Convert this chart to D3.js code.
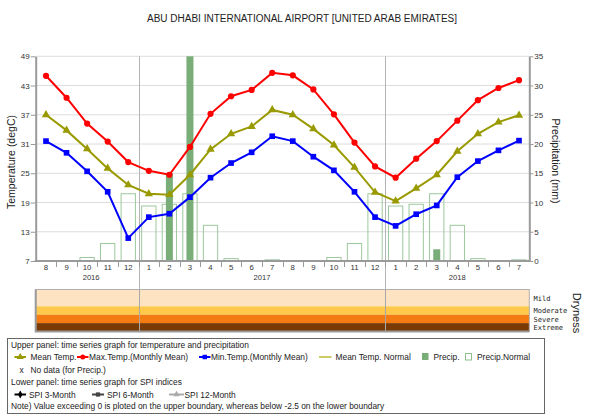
<!DOCTYPE html>
<html>
<head>
<meta charset="utf-8">
<script src="https://cdn.jsdelivr.net/npm/d3@7"></script>
<style>
body { margin: 0; background: #fff; }
svg { font-family: "Liberation Sans", Arial, sans-serif; }
</style>
</head>
<body>
<div id="chart"></div>
<script>
// --> DATA

var months = ["8","9","10","11","12","1","2","3","4","5","6","7","8","9","10","11","12","1","2","3","4","5","6","7"];
var years  = [2016,2016,2016,2016,2016,2017,2017,2017,2017,2017,2017,2017,2017,2017,2017,2017,2017,2018,2018,2018,2018,2018,2018,2018];

var maxTemp  = [45.0,40.5,35.2,31.5,27.3,25.5,24.7,30.4,37.2,40.8,42.1,45.6,45.1,42.2,37.1,31.3,26.4,24.1,28.0,31.6,35.8,40.0,42.5,44.1];
var meanTemp = [37.0,33.8,30.0,26.0,22.6,20.8,20.6,24.7,29.9,33.1,34.6,38.0,37.0,34.1,30.8,26.2,21.1,19.3,21.9,24.7,29.5,33.1,35.5,36.9];
var minTemp  = [31.6,29.2,25.4,21.2,11.7,16.0,16.7,20.1,24.1,27.1,29.3,32.6,31.6,28.4,25.6,21.2,16.0,14.2,16.6,18.4,24.2,27.5,29.7,31.7];
var precip   = [0,0,0,0,0,0,15.0,40.0,0,0,0,0,0,0,0,0,0,0,0,2.0,0,0,0,0];
// precipitation normal by calendar month, Jan..Dec
var precipNormal = [9.4,9.7,11.5,6.1,0.4,0,0.2,0,0,0.6,3.0,11.5];

var tempTicks = [7,13,19,25,31,37,43,49];
var precipTicks = [0,5,10,15,20,25,30,35];
var dryClasses = ["Mild","Moderate","Severe","Extreme"];
var dryBounds = [0,-1,-1.5,-2,-2.5];
var dryColors = ["#fde3c1","#fec84a","#f47b12","#7a3a05"];

var title = "ABU DHABI INTERNATIONAL AIRPORT [UNITED ARAB EMIRATES]";

// --> SET UP

var width = 600, height = 416;
var plot = {left: 35.7, right: 529.3, top: 56.3, bottom: 261};
var spiPanel = {top: 289.5, bottom: 331.5};

var svg = d3.select("#chart").append("svg")
    .attr("width", width)
    .attr("height", height);

var keys = months.map(function(m, i) { return years[i] + "-" + m; });

var x = d3.scaleBand()
    .domain(keys)
    .range([plot.left, plot.right]);

var yT = d3.scaleLinear().domain([7, 49]).range([plot.bottom, plot.top]);
var yP = d3.scaleLinear().domain([0, 35]).range([plot.bottom, plot.top]).clamp(true);
var ySpi = d3.scaleLinear().domain([0, -2.5]).range([spiPanel.top, spiPanel.bottom]);

function cx(i) { return x(keys[i]) + x.bandwidth() / 2; }

// title
svg.append("text")
    .attr("x", 302).attr("y", 21.5)
    .attr("text-anchor", "middle")
    .style("font-size", "10px")
    .style("fill", "#222")
    .text(title);

// horizontal grid
svg.append("g").selectAll("line")
    .data(tempTicks.slice(1))
    .enter().append("line")
    .attr("x1", plot.left).attr("x2", plot.right)
    .attr("y1", function(d) { return yT(d); })
    .attr("y2", function(d) { return yT(d); })
    .attr("stroke", "#dcdcdc").attr("stroke-width", 1);

// precip normal (hollow bars)
var normalW = 14.3;
svg.append("g").selectAll("rect")
    .data(keys.map(function(k, i) { return {k: k, v: precipNormal[+months[i] - 1]}; }).filter(function(d) { return d.v > 0; }))
    .enter().append("rect")
    .attr("x", function(d) { return x(d.k) + (x.bandwidth() - normalW) / 2; })
    .attr("width", normalW)
    .attr("y", function(d) { return yP(d.v); })
    .attr("height", function(d) { return yP(0) - yP(d.v); })
    .attr("fill", "none")
    .attr("stroke", "#9cc89c").attr("stroke-width", 1);

// precip (filled bars)
var precipW = 7;
svg.append("g").selectAll("rect")
    .data(keys.map(function(k, i) { return {k: k, v: precip[i]}; }).filter(function(d) { return d.v > 0; }))
    .enter().append("rect")
    .attr("x", function(d) { return x(d.k) + (x.bandwidth() - precipW) / 2; })
    .attr("width", precipW)
    .attr("y", function(d) { return yP(d.v); })
    .attr("height", function(d) { return yP(0) - yP(d.v); })
    .attr("fill", "#79ae79");

// year separators (run through both panels)
var yearStarts = keys.filter(function(k, i) { return i > 0 && years[i] !== years[i - 1]; });
svg.append("g").selectAll("line")
    .data(yearStarts)
    .enter().append("line")
    .attr("x1", function(d) { return Math.round(x(d)) + 0.5; })
    .attr("x2", function(d) { return Math.round(x(d)) + 0.5; })
    .attr("y1", plot.top).attr("y2", spiPanel.bottom)
    .attr("stroke", "#b4b4b4").attr("stroke-width", 1);

// left axis
var axL = svg.append("g")
    .attr("transform", "translate(" + plot.left + ",0)")
    .call(d3.axisLeft(yT).tickValues(tempTicks).tickSize(5).tickSizeOuter(0));
axL.select(".domain").attr("stroke", "#9a9a9a").attr("stroke-width", 2);
axL.selectAll(".tick line").attr("stroke", "#9a9a9a");
axL.selectAll(".tick text").style("font-size", "8px").style("fill", "#333").attr("x", -6);

// right axis
var axR = svg.append("g")
    .attr("transform", "translate(" + plot.right + ",0)")
    .call(d3.axisRight(yP).tickValues(precipTicks).tickSize(4).tickSizeOuter(0));
axR.select(".domain").attr("stroke", "#9a9a9a").attr("stroke-width", 2);
axR.selectAll(".tick line").attr("stroke", "#9a9a9a");
axR.selectAll(".tick text").style("font-size", "8px").style("fill", "#333").attr("x", 5);

// bottom axis: month labels and separators
var axB = svg.append("g")
    .attr("transform", "translate(0," + plot.bottom + ")")
    .call(d3.axisBottom(x).tickSize(0).tickFormat(function(d, i) { return months[i]; }));
axB.select(".domain").remove();
axB.selectAll(".tick text").style("font-size", "7.8px").style("fill", "#333").attr("y", 3.5);

svg.append("g").selectAll("line")
    .data(keys.slice(1))
    .enter().append("line")
    .attr("x1", function(d) { return Math.round(x(d)) + 0.5; })
    .attr("x2", function(d) { return Math.round(x(d)) + 0.5; })
    .attr("y1", plot.bottom).attr("y2", plot.bottom + 6)
    .attr("stroke", "#9a9a9a");

svg.append("line")
    .attr("x1", plot.left - 1).attr("x2", plot.right + 1)
    .attr("y1", plot.bottom).attr("y2", plot.bottom)
    .attr("stroke", "#9a9a9a").attr("stroke-width", 2);

// year labels
var yearList = Array.from(new Set(years));
svg.append("g").selectAll("text")
    .data(yearList)
    .enter().append("text")
    .attr("x", function(yr) {
        var idx = d3.range(keys.length).filter(function(i) { return years[i] === yr; });
        return (cx(idx[0]) + cx(idx[idx.length - 1])) / 2 + (yr === 2016 ? 4 : 0);
    })
    .attr("y", 279.5)
    .attr("text-anchor", "middle")
    .style("font-size", "7.6px").style("fill", "#333")
    .text(function(d) { return d; });

// axis titles
svg.append("text")
    .attr("transform", "translate(15," + 162 + ") rotate(-90)")
    .attr("text-anchor", "middle")
    .style("font-size", "10.5px").style("fill", "#222")
    .text("Temperature (degC)");

svg.append("text")
    .attr("transform", "translate(552," + 161 + ") rotate(90)")
    .attr("text-anchor", "middle")
    .style("font-size", "10.5px").style("fill", "#222")
    .text("Precipitation (mm)");

// temperature lines
var line = function(vals) {
    return d3.line()
        .x(function(d, i) { return cx(i); })
        .y(function(d) { return yT(d); })(vals);
};

var series = [
    {vals: meanTemp, color: "#999900", shape: d3.symbolTriangle, size: 30},
    {vals: maxTemp, color: "#ff0000", shape: d3.symbolCircle, size: 30},
    {vals: minTemp, color: "#0000ff", shape: d3.symbolSquare, size: 32}
];

series.forEach(function(s) {
    svg.append("path")
        .attr("d", line(s.vals))
        .attr("fill", "none")
        .attr("stroke", s.color)
        .attr("stroke-width", 2);
    svg.append("g").selectAll("path")
        .data(s.vals)
        .enter().append("path")
        .attr("transform", function(d, i) { return "translate(" + cx(i) + "," + yT(d) + ")"; })
        .attr("d", d3.symbol().type(s.shape).size(s.size))
        .attr("fill", s.color);
});

// --> SPI / DRYNESS PANEL

var dryG = svg.append("g");
dryG.selectAll("rect")
    .data(dryClasses)
    .enter().append("rect")
    .attr("x", plot.left).attr("width", plot.right - plot.left)
    .attr("y", function(d, i) { return ySpi(dryBounds[i]); })
    .attr("height", function(d, i) { return ySpi(dryBounds[i + 1]) - ySpi(dryBounds[i]); })
    .attr("fill", function(d, i) { return dryColors[i]; });

// redraw year separators over bands
dryG.selectAll("line")
    .data(yearStarts)
    .enter().append("line")
    .attr("x1", function(d) { return Math.round(x(d)) + 0.5; })
    .attr("x2", function(d) { return Math.round(x(d)) + 0.5; })
    .attr("y1", spiPanel.top).attr("y2", spiPanel.bottom)
    .attr("stroke", "#a8a8a8").attr("stroke-width", 1);

dryG.append("rect")
    .attr("x", plot.left).attr("y", spiPanel.top)
    .attr("width", plot.right - plot.left).attr("height", spiPanel.bottom - spiPanel.top)
    .attr("fill", "none").attr("stroke", "#b0b0b0").attr("stroke-width", 1);
dryG.append("path")
    .attr("d", "M" + plot.left + "," + spiPanel.top + "V" + spiPanel.bottom + "H" + plot.right)
    .attr("fill", "none").attr("stroke", "#9a9a9a").attr("stroke-width", 2);

var dryLabelY = [301, 313.3, 321.7, 330];
dryG.selectAll("text")
    .data(dryClasses)
    .enter().append("text")
    .attr("x", 533.5)
    .attr("y", function(d, i) { return dryLabelY[i]; })
    .style("font-family", "'DejaVu Sans Mono', monospace")
    .style("font-size", "7px").style("fill", "#222")
    .text(function(d) { return d; });

svg.append("text")
    .attr("transform", "translate(573,313) rotate(90)")
    .attr("text-anchor", "middle")
    .style("font-size", "11px").style("fill", "#222")
    .text("Dryness");

// --> LEGEND

var lg = svg.append("g");
lg.append("rect")
    .attr("x", 7.5).attr("y", 338.5).attr("width", 537).attr("height", 75)
    .attr("fill", "#fff").attr("stroke", "#666").attr("stroke-width", 1);

var fs = "8.4px";
function ltext(xp, yp, t) {
    lg.append("text").attr("x", xp).attr("y", yp)
        .style("font-size", fs).style("fill", "#222").text(t);
}
function lsym(x0, x1, yp, color, shape, size) {
    lg.append("line").attr("x1", x0).attr("x2", x1).attr("y1", yp).attr("y2", yp)
        .attr("stroke", color).attr("stroke-width", 2);
    if (shape) {
        lg.append("path").attr("transform", "translate(" + ((x0 + x1) / 2) + "," + yp + ")")
            .attr("d", d3.symbol().type(shape).size(size)).attr("fill", color);
    }
}

ltext(11, 348, "Upper panel: time series graph for temperature and precipitation");
var r2 = 360;
lsym(14.5, 26, r2 - 3, "#999900", d3.symbolTriangle, 22);
ltext(30.5, r2, "Mean Temp.");
lsym(77, 88.5, r2 - 3, "#ff0000", d3.symbolCircle, 20);
ltext(89, r2, "Max.Temp.(Monthly Mean)");
lsym(199, 210.5, r2 - 3, "#0000ff", d3.symbolSquare, 20);
ltext(211, r2, "Min.Temp.(Monthly Mean)");
lsym(319, 331.5, r2 - 3, "#aaa800", null);
lg.select("line:last-of-type").attr("stroke-width", 1.2);
ltext(335.5, r2, "Mean Temp. Normal");
lg.append("rect").attr("x", 422).attr("y", r2 - 7).attr("width", 6.5).attr("height", 7).attr("fill", "#79ae79");
ltext(433.5, r2, "Precip.");
lg.append("rect").attr("x", 465.5).attr("y", r2 - 6.5).attr("width", 6).attr("height", 6.5)
    .attr("fill", "none").attr("stroke", "#8fc08f");
ltext(477, r2, "Precip.Normal");

ltext(19.5, 373, "x");
ltext(30.5, 372.5, "No data (for Precip.)");

ltext(11, 385, "Lower panel: time series graph for SPI indices");
var r5 = 397.5;
lsym(14.5, 26, r5 - 3, "#000", d3.symbolDiamond, 18);
ltext(29, r5, "SPI 3-Month");
lsym(92, 104, r5 - 3, "#444", d3.symbolSquare, 18);
ltext(107, r5, "SPI 6-Month");
lsym(169, 184, r5 - 3, "#aaa", d3.symbolTriangle, 18);
ltext(184.5, r5, "SPI 12-Month");

ltext(11, 409, "Note) Value exceeding 0 is ploted on the upper boundary, whereas below -2.5 on the lower boundary");
</script>
</body>
</html>
